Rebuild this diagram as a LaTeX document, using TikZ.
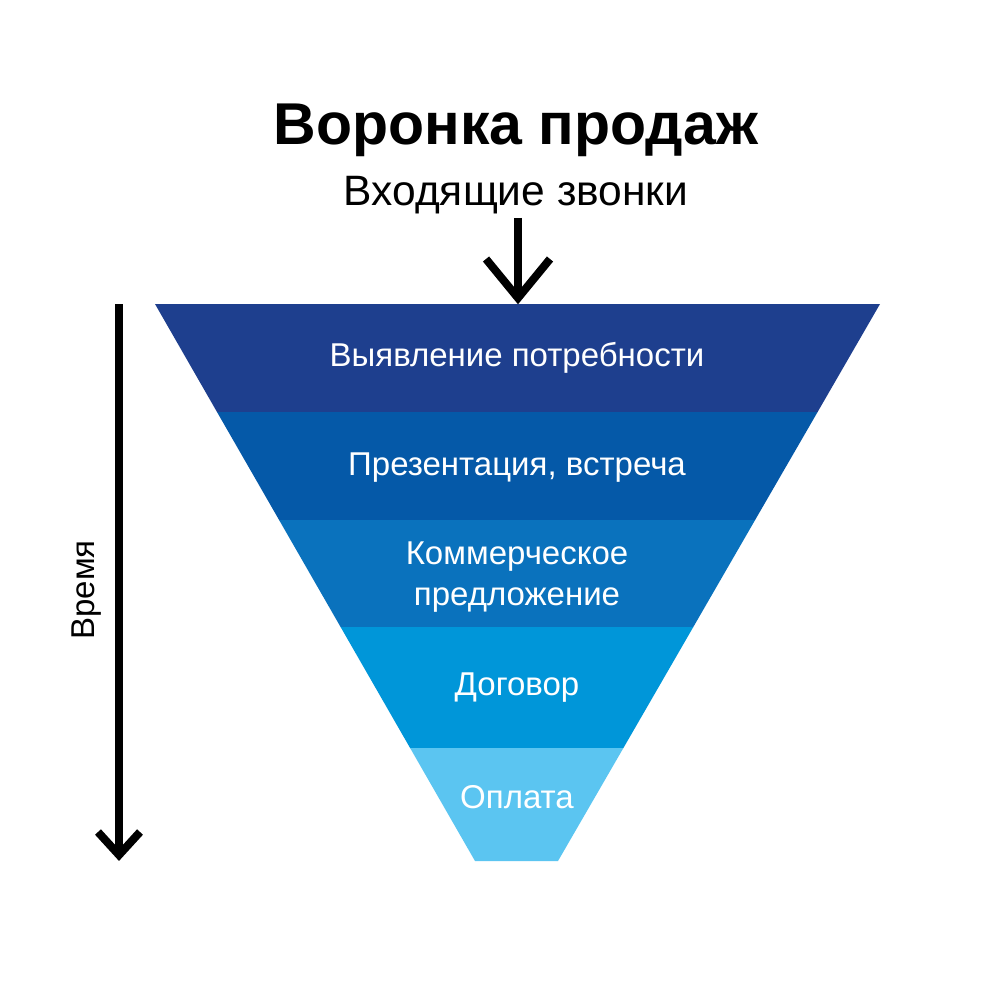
\documentclass[tikz,border=0pt]{standalone}
\usepackage{fontspec}
\setmainfont{Liberation Sans}
\definecolor{bandA}{HTML}{1E3F8E}
\definecolor{bandB}{HTML}{0559A8}
\definecolor{bandC}{HTML}{0A72BD}
\definecolor{bandD}{HTML}{0096D9}
\definecolor{bandE}{HTML}{5BC5F1}
\begin{document}
\begin{tikzpicture}[x=1pt,y=-1pt,
  bandlabel/.style={text=white,font=\fontsize{33}{41}\selectfont,align=center,inner sep=0pt},
  arrowline/.style={line width=8pt,black},
  chevron/.style={line width=8pt,black,miter limit=10}]
\useasboundingbox[fill=white] (0,0) rectangle (1000,1000);
% funnel bands
\fill[bandA] (155,304) -- (880,304) -- (817.6,412) -- (217,412) -- cycle;
\fill[bandB] (217,412) -- (817.6,412) -- (755.1,520) -- (279.1,520) -- cycle;
\fill[bandC] (279.1,520) -- (755.1,520) -- (693.3,627) -- (340.6,627) -- cycle;
\fill[bandD] (340.6,627) -- (693.3,627) -- (623.4,748) -- (410.1,748) -- cycle;
\fill[bandE] (410.1,748) -- (623.4,748) -- (558,861) -- (475,861) -- cycle;
% titles
\node[font=\bfseries\fontsize{59}{64}\selectfont,inner sep=0pt,anchor=base] (title) at (516,145) {Воронка продаж};
\node[font=\fontsize{42.5}{48}\selectfont,inner sep=0pt,anchor=base] (sub) at (516,206) {Входящие звонки};
% band labels
\node[bandlabel] (l1) at (517,358) {Выявление потребности};
\node[bandlabel] (l2) at (517,468) {Презентация, встреча};
\node[bandlabel] (l3) at (517,577) {Коммерческое\\предложение};
\node[bandlabel] (l4) at (517,688) {Договор};
\node[bandlabel] (l5) at (517,797) {Оплата};
% time label
\node[rotate=90,font=\fontsize{33}{40}\selectfont,inner sep=0pt] (time) at (87,590) {Время};
% top arrow
\coordinate (ta) at (518,218);
\coordinate (tb) at (518,298);
\coordinate (tl) at (486,259);
\coordinate (tr) at (550,259);
\draw[arrowline] (ta) -- (tb);
\draw[chevron] (tl) -- (tb) -- (tr);
% time arrow
\coordinate (va) at (119,304);
\coordinate (vb) at (119,855);
\coordinate (vl) at (98,832);
\coordinate (vr) at (140,832);
\draw[arrowline] (va) -- (vb);
\draw[chevron] (vl) -- (vb) -- (vr);
\end{tikzpicture}
\end{document}
